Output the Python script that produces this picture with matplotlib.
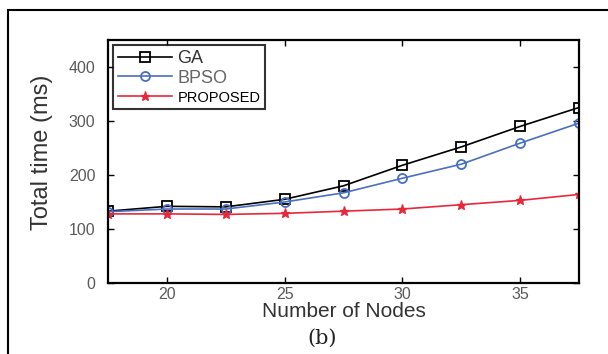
import numpy as np
import matplotlib.pyplot as plt
from matplotlib.patches import Rectangle

nodes = [17.5, 20, 22.5, 25, 27.5, 30, 32.5, 35, 37.5]
ga = [133, 142, 141, 155, 180, 218, 252, 290, 325]
bpso = [132, 137, 137, 150, 167, 194, 220, 259, 296]
proposed = [128, 128, 127, 129, 133, 137, 145, 153, 164]

xticks = [20, 25, 30, 35]
yticks = [0, 100, 200, 300, 400]

plt.rcParams['font.family'] = ['Liberation Sans', 'DejaVu Sans']

fig = plt.figure(figsize=(6.08, 3.54), dpi=100)
ax = fig.add_axes([108/608, 1 - 283/354, (579-108)/608, (283-40)/354])

# outer frame of the figure panel
fig.patches.append(Rectangle((8/608, -0.1), 1.1, 1 - 10/354 + 0.1,
                             transform=fig.transFigure, fill=False,
                             edgecolor='black', linewidth=1.5))

ax.plot(nodes, ga, color='black', marker='s', markersize=6.5, markerfacecolor='none',
        markeredgewidth=1.3, linewidth=1.2, label='GA')
ax.plot(nodes, bpso, color='#4a6fc0', marker='o', markersize=6.5, markerfacecolor='none',
        markeredgewidth=1.3, linewidth=1.2, label='BPSO')
ax.plot(nodes, proposed, color='#e8283a', marker='*', markersize=6.5,
        linewidth=1.2, label='PROPOSED')

ax.set_xlim(17.5, 37.5)
ax.set_ylim(0, 450)
ax.set_xticks(xticks)
ax.set_yticks(yticks)
ax.tick_params(direction='in', top=True, right=True, length=4, labelsize=11.5,
               labelcolor='#5a5a5a', width=1)
ax.tick_params(axis='y', pad=9)
ax.tick_params(axis='x', pad=3)
for s in ax.spines.values():
    s.set_linewidth(1.6)

ax.set_xlabel('Number of Nodes', fontsize=15, color='#333333')
ax.xaxis.set_label_coords(0.5, (283 - 302) / 243)
ax.set_ylabel('Total time (ms)', fontsize=17, color='#333333')
ax.yaxis.set_label_coords((53 - 108) / 471, (283 - 152) / 243)
fig.text(322/608, 1 - 338/354, '(b)', family='DejaVu Serif', fontsize=15,
         ha='center', va='center', color='#222222')

leg = ax.legend(loc='upper left', fontsize=13, frameon=True, fancybox=False,
                edgecolor='black', borderaxespad=0.3, handlelength=3.0,
                handletextpad=0.3, labelspacing=0.15, borderpad=0.25)
leg.get_frame().set_linewidth(1.5)
texts = leg.get_texts()
texts[0].set_color('#333333')
texts[1].set_color('#666666')
texts[2].set_fontsize(10.5)
texts[2].set_color('black')

fig.savefig('out.png', dpi=100)
